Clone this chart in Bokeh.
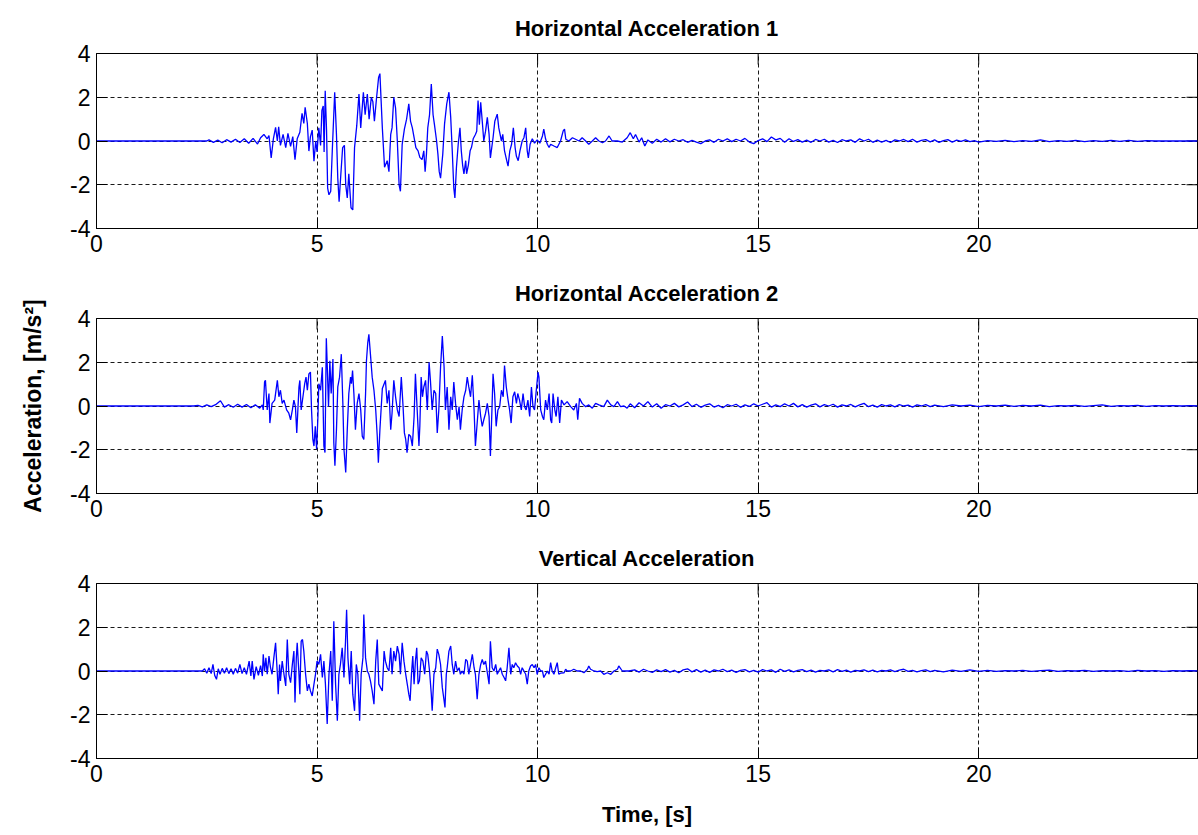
from bokeh.plotting import figure
from bokeh.layouts import column
from bokeh.models import Range1d, FixedTicker, PrintfTickFormatter
from bokeh.embed import file_html
from bokeh.resources import INLINE

# ---------------- data ----------------
titles = ["Horizontal Acceleration 1", "Horizontal Acceleration 2", "Vertical Acceleration"]
x_ticks = [0, 5, 10, 15, 20]
y_ticks = [-4, -2, 0, 2, 4]
t_start, t_end = 0.0, 24.96
y_min, y_max = -4, 4
x_label = "Time, [s]"
y_label = "Acceleration, [m/s\u00b2]"

# Horizontal Acceleration 1: (time [s], acceleration [m/s^2])
h1_samples = [
    (0.0, 0.0), (2.5, 0.0), (2.55, 0.05), (2.65, -0.06), (2.75, 0.04), (2.85, -0.08), (2.95, 0.06),
    (3.05, -0.05), (3.15, 0.08), (3.25, -0.07), (3.35, 0.1), (3.45, -0.1), (3.55, 0.12), (3.65, -0.14),
    (3.72, 0.15), (3.795, 0.3), (3.87, 0.1), (3.91, 0.25), (3.96, -0.77), (4.01, 0.1), (4.06, 0.62),
    (4.10, 0.0), (4.13, 0.65), (4.17, -0.2), (4.23, 0.3), (4.29, -0.3), (4.34, 0.35), (4.40, -0.25),
    (4.45, 0.2), (4.50, -0.85), (4.55, 0.1), (4.61, 0.4), (4.66, 1.26), (4.70, 0.8), (4.73, 1.54),
    (4.78, 0.8), (4.815, -0.46), (4.85, 0.2), (4.89, 0.5), (4.93, -0.92), (4.97, 0.0), (5.00, -0.5),
    (5.04, 0.6), (5.08, -0.2), (5.11, 1.4), (5.14, 1.6), (5.16, -0.5), (5.185, 2.3), (5.215, 0.5),
    (5.24, -2.15), (5.27, -2.46), (5.31, -2.3), (5.345, -0.46), (5.40, 2.23), (5.44, 0.3), (5.47, -1.7),
    (5.50, -2.77), (5.54, -1.5), (5.58, -0.3), (5.62, -0.2), (5.65, -2.0), (5.685, -2.6), (5.72, -1.5),
    (5.77, -3.05), (5.81, -3.15), (5.85, -0.3), (5.90, 0.7), (5.95, 2.15), (5.99, 0.6), (6.05, 2.23),
    (6.09, 1.2), (6.14, 2.15), (6.18, 1.0), (6.23, 2.0), (6.265, 1.8), (6.30, 0.9), (6.35, 2.0),
    (6.395, 2.9), (6.425, 3.08), (6.48, 0.6), (6.53, -1.2), (6.59, -0.9), (6.63, -1.4), (6.67, 0.3),
    (6.70, 0.6), (6.74, 2.0), (6.78, 1.5), (6.82, 0.0), (6.86, -2.0), (6.89, -2.3), (6.93, -0.15),
    (6.98, 0.54), (7.03, 1.0), (7.08, 1.7), (7.12, 0.9), (7.16, 0.6), (7.20, 0.15), (7.24, -0.3),
    (7.29, -0.45), (7.33, -0.75), (7.38, -0.85), (7.42, -0.45), (7.45, -1.4), (7.48, -0.6), (7.51, 0.6),
    (7.55, 1.2), (7.59, 2.6), (7.63, 1.2), (7.66, 0.77), (7.71, 0.0), (7.74, -0.6), (7.77, -1.4),
    (7.80, -1.7), (7.85, -0.6), (7.89, 0.77), (7.94, 1.7), (7.99, 2.23), (8.03, 1.08), (8.065, -0.45),
    (8.10, -2.15), (8.125, -2.6), (8.16, -1.2), (8.20, -0.15), (8.24, 0.6), (8.27, -0.45), (8.30, -1.1),
    (8.33, -1.5), (8.37, -0.9), (8.39, -1.5), (8.43, -1.1), (8.47, -0.45), (8.50, -0.3), (8.54, 0.1),
    (8.59, 0.3), (8.62, 0.45), (8.65, 1.85), (8.68, 0.75), (8.71, 1.77), (8.745, 0.9), (8.78, 0.0),
    (8.82, 0.45), (8.86, 1.08), (8.90, 0.3), (8.93, -0.77), (8.99, 0.15), (9.03, 0.9), (9.085, 1.23),
    (9.12, 0.6), (9.18, 0.0), (9.21, 0.3), (9.25, -0.45), (9.30, -0.9), (9.33, -1.15), (9.37, -0.45),
    (9.41, -0.15), (9.45, 0.6), (9.49, -0.3), (9.52, -0.7), (9.56, -0.9), (9.60, -0.45), (9.65, 0.0),
    (9.69, 0.15), (9.73, 0.6), (9.765, -0.45), (9.79, -0.77), (9.83, -0.15), (9.88, 0.1), (9.93, -0.1),
    (9.99, 0.05), (10.05, -0.1), (10.11, 0.23), (10.14, 0.54), (10.18, 0.1), (10.22, -0.15),
    (10.26, -0.3), (10.295, -0.15), (10.37, -0.23), (10.445, -0.3), (10.52, 0.0), (10.58, 0.46),
    (10.61, 0.54), (10.64, 0.08), (10.71, 0.0), (10.79, 0.15), (10.86, 0.08), (10.94, 0.0),
    (11.01, 0.15), (11.09, 0.0), (11.16, -0.15), (11.24, 0.0), (11.315, 0.15), (11.39, 0.0),
    (11.47, -0.08), (11.54, 0.0), (11.62, 0.23), (11.69, 0.0), (11.81, 0.0), (11.92, -0.05),
    (12.03, 0.15), (12.1, 0.38), (12.17, 0.1), (12.22, 0.3), (12.3, -0.05), (12.36, 0.15),
    (12.43, -0.23), (12.5, 0.05), (12.6, -0.1), (12.7, 0.08), (12.8, -0.05), (12.9, 0.1), (13.0, -0.04),
    (13.1, 0.08), (13.2, 0.0), (13.3, 0.06), (13.4, -0.06), (13.5, 0.03), (13.6, -0.05), (13.7, -0.12),
    (13.8, 0.0), (13.9, 0.05), (14.0, -0.06), (14.1, 0.08), (14.2, 0.0), (14.3, 0.1), (14.4, -0.03),
    (14.5, 0.08), (14.6, 0.0), (14.7, 0.12), (14.8, -0.05), (14.9, -0.12), (15.0, 0.02), (15.1, 0.1),
    (15.2, -0.03), (15.3, 0.18), (15.4, 0.05), (15.5, 0.12), (15.6, -0.06), (15.7, 0.1), (15.8, -0.02),
    (15.9, 0.06), (16.0, -0.05), (16.1, 0.04), (16.2, -0.06), (16.3, 0.07), (16.4, 0.0), (16.5, 0.08),
    (16.6, -0.05), (16.7, 0.03), (16.8, -0.07), (16.9, 0.06), (17.0, 0.0), (17.1, 0.05), (17.2, -0.06),
    (17.3, 0.1), (17.4, 0.0), (17.5, 0.08), (17.6, -0.06), (17.7, 0.04), (17.8, -0.05), (17.9, 0.03),
    (18.0, -0.07), (18.1, 0.05), (18.2, 0.0), (18.3, 0.07), (18.4, -0.03), (18.5, 0.08), (18.6, -0.05),
    (18.7, 0.03), (18.8, 0.06), (18.9, -0.04), (19.0, 0.05), (19.1, -0.06), (19.2, 0.02), (19.3, 0.06),
    (19.4, -0.05), (19.5, 0.04), (19.6, -0.02), (19.7, 0.05), (19.8, -0.03), (19.9, 0.02), (20.0, -0.05),
    (20.2, 0.02), (20.4, -0.02), (20.6, 0.03), (20.8, -0.03), (21.0, 0.02), (21.2, -0.02), (21.4, 0.05),
    (21.6, -0.03), (21.8, 0.02), (22.0, -0.02), (22.2, 0.03), (22.4, -0.03), (22.6, 0.02), (22.8, -0.02),
    (23.0, 0.03), (23.2, -0.02), (23.4, 0.03), (23.6, -0.02), (23.8, 0.02), (24.0, 0.0), (24.4, 0.0),
    (24.96, 0.0),
]

# Horizontal Acceleration 2
h2_samples = [
    (0.0, 0.0), (2.2, 0.0), (2.3, 0.03), (2.4, -0.04), (2.5, 0.05), (2.6, -0.03), (2.7, 0.06),
    (2.81, 0.24), (2.9, -0.05), (3.0, 0.06), (3.1, -0.06), (3.2, 0.08), (3.3, -0.05), (3.4, 0.07),
    (3.5, -0.08), (3.6, 0.06), (3.7, -0.1), (3.76, 0.05), (3.78, -0.18), (3.81, 1.1), (3.83, 1.17),
    (3.87, -0.18), (3.91, 0.57), (3.93, -0.78), (3.98, 0.12), (4.04, 0.27), (4.10, 1.17), (4.135, 0.42),
    (4.17, 0.72), (4.21, 0.12), (4.25, 0.27), (4.31, -0.18), (4.36, -0.33), (4.40, -0.63), (4.44, -0.18),
    (4.475, 0.27), (4.51, -0.03), (4.54, -1.23), (4.565, -0.18), (4.59, 0.87), (4.61, 1.17),
    (4.64, -0.18), (4.69, 0.57), (4.72, 1.02), (4.75, 1.32), (4.78, 0.72), (4.815, 1.47), (4.85, 1.55),
    (4.875, -0.18), (4.905, -1.53), (4.93, -1.83), (4.96, -0.93), (4.99, -1.98), (5.02, -0.48),
    (5.04, 1.02), (5.08, 0.72), (5.12, 1.77), (5.155, -1.83), (5.18, -2.13), (5.21, 3.1), (5.23, 1.92),
    (5.26, -0.03), (5.29, 2.07), (5.32, 0.57), (5.36, 2.15), (5.38, -1.68), (5.405, -2.73), (5.44, -1.08),
    (5.47, 0.87), (5.51, 1.32), (5.55, 2.37), (5.585, 0.12), (5.61, -1.98), (5.65, -3.04), (5.685, -1.08),
    (5.72, 0.57), (5.76, 1.32), (5.78, 1.02), (5.805, 1.62), (5.835, 0.57), (5.87, -1.08), (5.91, 0.12),
    (5.95, 0.57), (5.99, -0.18), (6.025, -1.38), (6.06, -1.53), (6.10, 0.57), (6.12, 2.07), (6.15, 2.9),
    (6.175, 3.28), (6.21, 2.37), (6.25, 1.32), (6.29, 0.72), (6.33, -0.18), (6.365, -1.38), (6.39, -2.59),
    (6.425, -1.08), (6.48, 0.8), (6.55, 1.17), (6.59, 0.12), (6.63, 0.72), (6.67, -1.08), (6.70, -0.33),
    (6.74, 1.17), (6.78, 0.42), (6.82, -0.18), (6.86, -0.48), (6.91, 1.32), (6.95, -0.03), (6.98, -1.23),
    (7.01, -1.53), (7.04, -2.13), (7.08, -1.3), (7.12, -1.38), (7.16, -1.83), (7.20, -0.48), (7.23, 1.47),
    (7.27, -0.18), (7.31, -1.83), (7.33, -0.93), (7.36, 1.32), (7.39, 0.42), (7.42, 0.87), (7.46, 1.17),
    (7.50, -0.18), (7.54, 2.0), (7.57, 1.17), (7.61, -0.18), (7.65, 0.72), (7.69, 0.57), (7.725, -1.23),
    (7.76, -0.18), (7.80, 1.77), (7.84, 3.2), (7.88, 1.77), (7.91, -0.18), (7.95, 0.87), (7.99, -1.08),
    (8.03, 0.42), (8.065, -0.18), (8.10, 1.1), (8.14, 0.12), (8.18, -0.63), (8.22, -0.03), (8.25, -1.08),
    (8.29, -0.18), (8.33, 0.42), (8.37, 0.72), (8.405, 1.32), (8.44, 0.87), (8.48, 0.42), (8.52, 1.4),
    (8.56, -0.18), (8.59, -1.83), (8.63, -0.78), (8.67, 0.27), (8.71, -0.48), (8.745, -0.93),
    (8.78, -0.63), (8.82, -0.33), (8.86, 0.12), (8.90, -0.48), (8.93, -2.29), (8.96, -0.48), (8.99, 1.47),
    (9.025, 0.57), (9.06, -0.93), (9.10, -0.18), (9.14, -0.03), (9.18, 0.72), (9.22, 0.42), (9.25, 1.85),
    (9.29, 0.87), (9.33, 0.27), (9.365, -0.18), (9.40, -0.78), (9.44, 0.42), (9.48, 0.65), (9.52, 0.12),
    (9.55, 0.57), (9.59, 0.27), (9.63, -0.18), (9.67, 0.57), (9.705, -0.03), (9.74, -0.18), (9.78, 0.27),
    (9.82, -0.48), (9.86, 0.87), (9.895, -0.03), (9.93, -0.18), (9.97, 0.72), (10.01, 1.55), (10.03, 1.32),
    (10.07, -0.18), (10.11, -0.48), (10.14, -0.63), (10.18, 0.27), (10.22, -0.18), (10.26, 0.57),
    (10.295, -0.63), (10.32, -0.78), (10.35, 0.57), (10.39, -0.18), (10.42, -0.48), (10.46, 0.42),
    (10.50, -0.78), (10.54, 0.27), (10.60, 0.05), (10.67, 0.2), (10.75, -0.03), (10.82, -0.18),
    (10.88, 0.12), (10.91, -0.63), (10.95, 0.35), (11.01, 0.12), (11.09, -0.03), (11.16, 0.05),
    (11.24, -0.1), (11.315, 0.12), (11.39, 0.05), (11.50, -0.03), (11.58, 0.27), (11.66, 0.05),
    (11.73, -0.03), (11.81, 0.2), (11.88, -0.03), (11.96, 0.0), (12.03, -0.1), (12.1, 0.1), (12.2, -0.08),
    (12.3, 0.15), (12.4, 0.0), (12.5, 0.2), (12.6, -0.05), (12.7, 0.1), (12.8, -0.1), (12.9, 0.06),
    (13.0, 0.0), (13.1, 0.12), (13.2, -0.04), (13.3, 0.05), (13.4, 0.18), (13.5, -0.03), (13.6, 0.08),
    (13.7, -0.06), (13.8, 0.04), (13.9, 0.1), (14.0, -0.05), (14.1, 0.03), (14.2, -0.08), (14.3, 0.06),
    (14.4, 0.0), (14.5, 0.08), (14.6, -0.06), (14.7, 0.05), (14.8, -0.02), (14.9, 0.1), (15.0, 0.0),
    (15.1, 0.08), (15.2, 0.15), (15.3, -0.05), (15.4, 0.05), (15.5, -0.03), (15.6, 0.1), (15.7, 0.0),
    (15.8, 0.12), (15.9, -0.04), (16.0, 0.06), (16.1, -0.05), (16.2, 0.04), (16.3, 0.1), (16.4, -0.04),
    (16.5, 0.06), (16.6, 0.0), (16.7, 0.08), (16.8, -0.05), (16.9, 0.05), (17.0, 0.0), (17.1, 0.07),
    (17.2, -0.04), (17.3, 0.05), (17.4, 0.12), (17.5, -0.03), (17.6, 0.04), (17.7, -0.05), (17.8, 0.06),
    (17.9, 0.0), (18.0, 0.05), (18.1, -0.04), (18.2, 0.06), (18.3, 0.0), (18.4, 0.04), (18.5, -0.05),
    (18.6, 0.05), (18.7, 0.0), (18.8, 0.06), (18.9, -0.03), (19.0, 0.04), (19.2, -0.03), (19.4, 0.05),
    (19.6, 0.0), (19.8, 0.04), (20.0, -0.03), (20.2, 0.03), (20.4, 0.0), (20.6, 0.04), (20.8, -0.02),
    (21.0, 0.03), (21.2, 0.0), (21.4, 0.04), (21.6, -0.03), (21.8, 0.02), (22.0, 0.0), (22.2, 0.03),
    (22.4, -0.02), (22.6, 0.02), (22.8, 0.05), (23.0, -0.02), (23.2, 0.02), (23.4, 0.0), (23.6, 0.03),
    (23.8, -0.02), (24.0, 0.02), (24.2, 0.0), (24.4, 0.02), (24.6, 0.0), (24.8, 0.02), (24.96, 0.0),
]

# Vertical Acceleration
v_samples = [
    (0.0, 0.0), (2.4, 0.0), (2.45, 0.1), (2.5, -0.1), (2.55, 0.15), (2.6, -0.12), (2.64, 0.3),
    (2.68, -0.2), (2.72, -0.38), (2.76, 0.1), (2.8, -0.15), (2.85, 0.12), (2.9, -0.1), (2.95, 0.15),
    (3.0, -0.12), (3.05, 0.1), (3.1, -0.15), (3.15, 0.12), (3.2, -0.1), (3.25, 0.3), (3.3, -0.12),
    (3.35, 0.15), (3.4, -0.15), (3.46, 0.45), (3.5, -0.23), (3.53, 0.45), (3.57, -0.38), (3.62, 0.2),
    (3.67, -0.2), (3.72, 0.25), (3.76, -0.23), (3.78, 0.76), (3.81, 0.0), (3.84, 0.6), (3.87, -0.15),
    (3.91, 0.68), (3.945, 0.15), (3.98, -0.15), (4.02, 0.6), (4.06, 1.29), (4.10, -0.15), (4.12, -1.06),
    (4.15, 0.3), (4.17, -0.45), (4.21, 0.45), (4.25, -0.15), (4.29, -0.68), (4.325, 1.44), (4.36, -0.15),
    (4.40, -0.53), (4.44, 0.3), (4.475, 0.91), (4.50, -1.44), (4.53, 0.6), (4.55, 1.29), (4.59, -0.15),
    (4.61, -1.06), (4.64, 1.36), (4.67, 1.44), (4.70, 0.91), (4.74, -0.15), (4.78, -0.91), (4.815, -0.6),
    (4.85, -0.91), (4.89, -1.14), (4.93, -0.6), (4.965, -0.15), (5.00, 0.45), (5.04, 0.3), (5.08, 0.76),
    (5.12, -0.3), (5.155, 0.45), (5.19, -0.6), (5.23, -2.42), (5.27, -0.15), (5.31, 0.91), (5.345, -1.36),
    (5.38, 2.27), (5.42, -0.6), (5.46, -2.27), (5.495, -0.15), (5.53, 0.3), (5.57, 1.06), (5.61, -0.3),
    (5.645, 1.36), (5.67, 2.8), (5.70, 0.6), (5.74, -0.6), (5.775, 0.91), (5.81, -1.06), (5.85, -1.82),
    (5.89, 0.3), (5.925, -0.15), (5.965, -2.27), (6.00, -0.15), (6.04, 0.6), (6.06, 2.58), (6.10, 0.6),
    (6.14, 0.0), (6.175, -0.15), (6.21, -0.45), (6.25, -0.91), (6.29, -1.52), (6.33, 0.45), (6.365, 1.44),
    (6.40, -0.6), (6.44, -0.76), (6.48, -0.91), (6.52, 0.91), (6.55, 0.45), (6.59, 0.15), (6.63, 0.0),
    (6.67, 1.06), (6.70, -0.15), (6.74, 0.91), (6.78, 0.45), (6.82, 1.14), (6.86, 0.76), (6.89, -0.15),
    (6.93, 1.29), (6.97, 0.45), (7.01, -0.15), (7.045, -0.6), (7.08, -1.06), (7.11, -1.36), (7.14, -0.15),
    (7.17, 0.68), (7.20, -0.6), (7.23, 0.45), (7.26, 1.06), (7.29, -0.6), (7.32, -0.45), (7.36, 0.6),
    (7.40, 0.45), (7.44, -0.15), (7.48, 0.91), (7.51, 0.76), (7.55, 0.0), (7.59, -1.06), (7.61, -1.82),
    (7.65, -0.15), (7.69, 0.15), (7.725, 1.0), (7.76, 0.76), (7.80, 0.3), (7.84, -0.76), (7.88, -1.36),
    (7.90, -1.67), (7.93, -0.15), (7.95, 0.15), (7.99, 0.91), (8.03, 1.14), (8.065, 0.3), (8.10, -0.15),
    (8.14, 0.45), (8.18, 0.0), (8.22, 0.15), (8.25, -0.15), (8.29, 0.0), (8.33, -0.15), (8.37, 0.53),
    (8.405, 0.45), (8.44, -0.15), (8.48, 0.3), (8.52, 0.76), (8.56, 0.15), (8.59, -0.15), (8.63, -1.29),
    (8.67, -0.15), (8.71, 0.3), (8.745, 0.53), (8.78, 0.3), (8.82, 0.45), (8.86, -0.08), (8.90, -0.6),
    (8.93, 1.36), (8.97, 0.15), (9.01, 0.0), (9.05, 0.3), (9.085, -0.15), (9.12, 0.0), (9.16, 0.15),
    (9.20, -0.15), (9.24, -0.3), (9.275, -0.45), (9.31, 0.15), (9.35, 1.06), (9.39, -0.15), (9.425, 0.3),
    (9.46, 0.15), (9.50, 0.38), (9.54, 0.23), (9.58, 0.15), (9.615, -0.15), (9.65, 0.15), (9.69, 0.0),
    (9.73, -0.15), (9.765, -0.6), (9.80, 0.0), (9.84, 0.23), (9.88, 0.3), (9.92, 0.15), (9.955, 0.3),
    (9.99, -0.15), (10.03, 0.15), (10.07, 0.0), (10.11, 0.0), (10.14, -0.3), (10.18, -0.15), (10.22, 0.0),
    (10.26, -0.15), (10.295, 0.38), (10.33, 0.0), (10.37, -0.15), (10.41, 0.15), (10.445, 0.38),
    (10.48, -0.15), (10.52, -0.1), (10.60, -0.08), (10.635, 0.08), (10.67, 0.0), (10.75, 0.0),
    (10.82, 0.08), (10.90, 0.0), (10.975, 0.0), (11.05, -0.08), (11.13, 0.08), (11.16, 0.23), (11.20, 0.08),
    (11.28, 0.0), (11.35, -0.03), (11.43, 0.0), (11.50, -0.15), (11.58, -0.08), (11.66, -0.15),
    (11.73, 0.0), (11.81, 0.08), (11.84, 0.23), (11.92, 0.0), (12.0, 0.0), (12.07, 0.0), (12.2, 0.05),
    (12.3, -0.05), (12.4, 0.08), (12.5, 0.0), (12.6, -0.06), (12.7, 0.05), (12.8, -0.03), (12.9, 0.06),
    (13.0, -0.05), (13.1, 0.03), (13.2, -0.08), (13.3, 0.05), (13.4, 0.1), (13.5, -0.04), (13.6, 0.06),
    (13.7, -0.05), (13.8, 0.04), (13.9, -0.06), (14.0, 0.05), (14.1, 0.0), (14.2, 0.08), (14.3, -0.03),
    (14.4, 0.04), (14.5, -0.06), (14.6, 0.03), (14.7, 0.06), (14.8, -0.04), (14.9, 0.03), (15.0, -0.05),
    (15.1, 0.06), (15.2, 0.0), (15.3, 0.05), (15.4, -0.06), (15.5, 0.08), (15.6, -0.02), (15.7, 0.05),
    (15.8, -0.04), (15.9, 0.03), (16.0, 0.06), (16.1, -0.03), (16.2, 0.04), (16.3, -0.05), (16.4, 0.03),
    (16.5, 0.0), (16.6, 0.05), (16.7, -0.04), (16.8, 0.06), (16.9, -0.02), (17.0, 0.04), (17.1, -0.05),
    (17.2, 0.03), (17.3, 0.0), (17.4, 0.05), (17.5, -0.03), (17.6, 0.04), (17.7, -0.04), (17.8, 0.03),
    (17.9, 0.0), (18.0, 0.05), (18.1, -0.03), (18.2, 0.04), (18.3, 0.08), (18.4, -0.02), (18.5, 0.03),
    (18.6, -0.04), (18.7, 0.02), (18.8, 0.05), (18.9, -0.03), (19.0, 0.03), (19.2, -0.04), (19.4, 0.04),
    (19.6, -0.02), (19.8, 0.05), (20.0, -0.02), (20.2, 0.03), (20.4, -0.02), (20.6, 0.02), (20.8, 0.0),
    (21.0, 0.03), (21.2, -0.02), (21.4, 0.02), (21.6, 0.04), (21.8, -0.02), (22.0, 0.02), (22.2, 0.0),
    (22.4, 0.03), (22.6, -0.02), (22.8, 0.02), (23.0, 0.0), (23.2, 0.02), (23.4, -0.02), (23.6, 0.03),
    (23.8, 0.0), (24.0, 0.02), (24.2, -0.02), (24.4, 0.02), (24.6, 0.0), (24.8, 0.02), (24.96, 0.0),
]

series = [h1_samples, h2_samples, v_samples]

# ---------------- styling ----------------
FONT = "Liberation Sans"
LINE_COLOR = "#0000ff"
GRID_COLOR = "#1a1a1a"
FRAME_W, FRAME_H = 1101, 175
TICK_PX = 11


def style_axis(ax, ticks):
    ax.ticker = FixedTicker(ticks=ticks)
    ax.formatter = PrintfTickFormatter(format="%d")
    ax.major_tick_in = TICK_PX
    ax.major_tick_out = 0
    ax.major_tick_line_color = "black"
    ax.minor_tick_line_color = None
    ax.axis_line_color = "black"
    ax.axis_line_width = 1
    ax.major_label_text_font = FONT
    ax.major_label_text_font_size = "23px"
    ax.major_label_text_color = "black"
    ax.major_label_standoff = 6


def style_label(ax, text, standoff, size):
    ax.axis_label = text
    ax.axis_label_text_font = FONT
    ax.axis_label_text_font_style = "bold"
    ax.axis_label_text_font_size = size
    ax.axis_label_text_color = "black"
    ax.axis_label_standoff = standoff


def make_panel(title, samples, bottom_border, xlabel=None, ylabel=None):
    ts = [s[0] for s in samples]
    vs = [s[1] for s in samples]
    p = figure(frame_width=FRAME_W, frame_height=FRAME_H,
               min_border_left=96, min_border_right=1,
               min_border_top=53, min_border_bottom=bottom_border,
               x_range=Range1d(t_start, t_end), y_range=Range1d(y_min, y_max),
               output_backend="svg", toolbar_location=None, title=title)
    p.background_fill_color = "white"
    p.border_fill_color = "white"
    p.outline_line_color = "black"
    p.outline_line_width = 1
    p.outline_line_alpha = 1

    p.title.text_font = FONT
    p.title.text_font_style = "bold"
    p.title.text_font_size = "22px"
    p.title.text_color = "black"
    p.title.align = "center"
    p.title.standoff = 25

    xax = p.xaxis[0]
    yax = p.yaxis[0]
    style_axis(xax, x_ticks)
    style_axis(yax, y_ticks)

    p.xgrid.ticker = FixedTicker(ticks=x_ticks)
    p.ygrid.ticker = FixedTicker(ticks=y_ticks)
    for g in (p.xgrid, p.ygrid):
        g.grid_line_color = GRID_COLOR
        g.grid_line_alpha = 1
        g.grid_line_width = 1
        g.grid_line_dash = "4 3"

    # inward ticks on the top and right edges of the box (MATLAB "box on")
    dy = TICK_PX * (y_max - y_min) / FRAME_H
    dx = TICK_PX * (t_end - t_start) / FRAME_W
    p.segment(x0=x_ticks, y0=[y_max] * len(x_ticks), x1=x_ticks, y1=[y_max - dy] * len(x_ticks),
              line_color="black", line_width=1)
    p.segment(x0=[t_end] * len(y_ticks), y0=y_ticks, x1=[t_end - dx] * len(y_ticks), y1=y_ticks,
              line_color="black", line_width=1)

    if xlabel:
        style_label(xax, xlabel, 17, "22px")
    if ylabel:
        style_label(yax, ylabel, 21, "23px")

    p.line(ts, vs, line_color=LINE_COLOR, line_width=1.3)
    return p


p1 = make_panel(titles[0], series[0], 37)
p2 = make_panel(titles[1], series[1], 37, ylabel=y_label)
p3 = make_panel(titles[2], series[2], 77, xlabel=x_label)

layout = column(p1, p2, p3, spacing=0)
open("out.html", "w").write(file_html(layout, INLINE))
